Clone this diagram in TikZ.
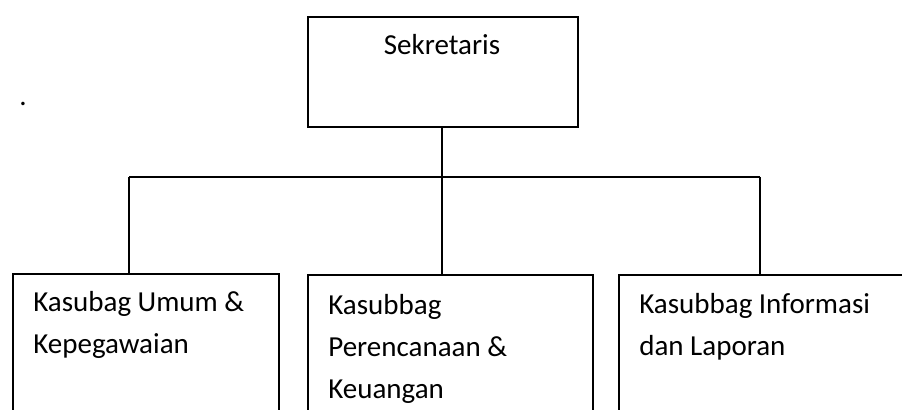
\documentclass[tikz,border=0pt]{standalone}
\usepackage{fontspec}
\setmainfont{Carlito}
\begin{document}
\begin{tikzpicture}
            \tikzstyle{wire} = [line width=1pt]
            \tikzstyle{unitbox} = [draw, line width=1pt, inner sep=0pt, anchor=north west]
            \tikzstyle{unittext} = [anchor=north west, align=left, inner sep=0pt, font={\fontsize{16.5pt}{24pt}\selectfont}]
            \useasboundingbox (0, 0) rectangle (18.04, 8.2);
            \clip (0, 0) rectangle (18.04, 8.2);
            \node[unitbox, minimum width=5.4cm, minimum height=2.2cm] (sek) at (6.14, 7.88) {};
            \node[anchor=base, inner sep=0pt, font={\fontsize{16.5pt}{24pt}\selectfont}] (sektxt) at (8.84, 7.1) {Sekretaris};
            \node[anchor=base west, inner sep=0pt, font={\fontsize{16.5pt}{24pt}\selectfont}] (titik) at (0.38, 6.08) {.};
            \node[unitbox, minimum width=5.32cm, minimum height=3.4cm] (umum) at (0.24, 2.74) {};
            \node[unitbox, minimum width=5.7cm, minimum height=3.4cm] (rencana) at (6.14, 2.72) {};
            \node[unitbox, minimum width=5.9cm, minimum height=3.4cm] (info) at (12.36, 2.72) {};
            \node[unittext] (umumtxt) at ([xshift=0.42cm, yshift=-0.36cm]umum.north west) {Kasubag Umum \&\\Kepegawaian};
            \node[unittext] (rencanatxt) at ([xshift=0.42cm, yshift=-0.4cm]rencana.north west) {Kasubbag\\Perencanaan \&\\Keuangan};
            \node[unittext] (infotxt) at ([xshift=0.42cm, yshift=-0.38cm]info.north west) {Kasubbag Informasi\\dan Laporan};
            \coordinate (bus) at (8.84, 4.66);
            \coordinate (busL) at (2.58, 4.66);
            \coordinate (busR) at (15.2, 4.66);
            \draw[wire] (bus |- sek.south) -- (bus);
            \draw[wire] (busL) -- (busR);
            \draw[wire] (busL) -- (busL |- umum.north);
            \draw[wire] (bus) -- (bus |- rencana.north);
            \draw[wire] (busR) -- (busR |- info.north);
        \end{tikzpicture}
\end{document}
